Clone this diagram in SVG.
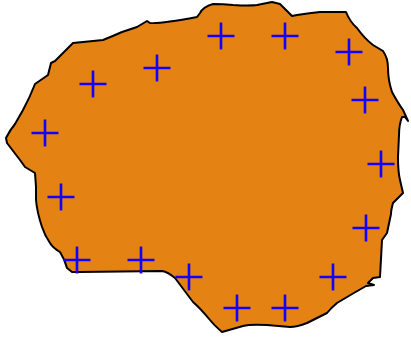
<svg xmlns="http://www.w3.org/2000/svg" xmlns:xlink="http://www.w3.org/1999/xlink" width="411" height="338" viewBox="0 0 411 338">
<style>
.blob{fill:#e48214;stroke:#000;stroke-width:2;stroke-linejoin:round;stroke-linecap:round}
.cross{fill:none;stroke:#1400ff;stroke-width:2.6}
</style>
<defs>
<path id="x" class="cross" d="M-13.5 0H13.5M0 -13.5V13.5"/>
</defs>
<rect width="411" height="338" fill="#fff"/>
<g id="shape">
<path class="blob" d="M200 13 Q203 7 213 4 Q223 4 233 5 Q250 6 257 5 Q267 3 272 2 L280 4 L292 16 L297 15 Q310 13 320 12 L346 12 Q350 22 357 28 Q364 38 373 45 L383 51 Q388 58 388 68 Q388 80 392 92 Q398 103 403 110 L408 121 L405 117 L402 117 Q399 125 399 135 L398 157 Q398 172 400 180 L403 193 L393 203 Q391 210 391 214 L387 233 L382 240 L380 277 L373 278 L368 283 L374 285 L366 286 Q352 294 337 303 Q331 308 327 313 L307 323 Q297 327 290 327 Q278 326 267 325 Q250 324 243 326 L222 332 Q214 325 210 320 Q200 308 193 302 Q184 290 175 278 Q168 272 162 271 L80 272 L72 272 L67 268 Q65 260 60 252 Q53 248 50 243 Q45 236 42 227 Q37 212 36 200 L36 187 L35 173 L25 167 L20 160 L7 143 L6 138 Q10 130 15 124 L23 110 Q30 97 35 84 L48 75 L51 63 L55 61 L73 43 L103 40 Q113 36 122 32 L137 27 L147 21 L150 23 Q160 24 197 17 Z"/>
</g>
<g id="marks">
<use xlink:href="#x" x="45" y="133"/>
<use xlink:href="#x" x="93" y="84"/>
<use xlink:href="#x" x="157" y="68"/>
<use xlink:href="#x" x="221" y="36"/>
<use xlink:href="#x" x="285" y="36"/>
<use xlink:href="#x" x="349" y="52"/>
<use xlink:href="#x" x="365" y="100"/>
<use xlink:href="#x" x="381" y="164"/>
<use xlink:href="#x" x="366" y="228"/>
<use xlink:href="#x" x="333" y="277"/>
<use xlink:href="#x" x="285" y="308"/>
<use xlink:href="#x" x="237" y="308"/>
<use xlink:href="#x" x="189" y="277"/>
<use xlink:href="#x" x="141" y="260"/>
<use xlink:href="#x" x="77" y="260"/>
<use xlink:href="#x" x="61" y="197"/>
</g>
</svg>
